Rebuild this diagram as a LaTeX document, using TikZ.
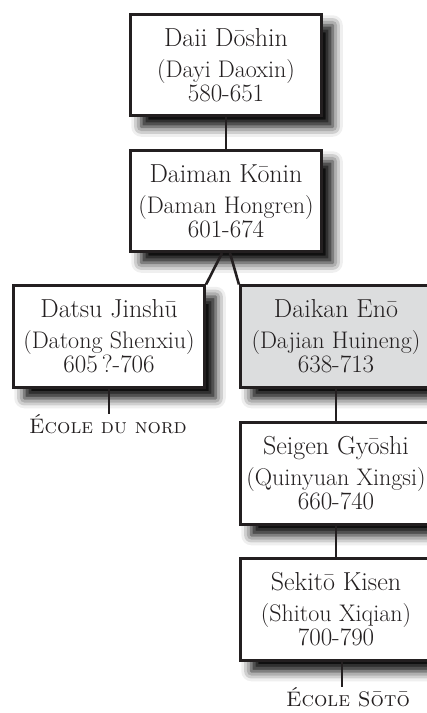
\documentclass[tikz,border=0pt]{standalone}
\usetikzlibrary{shadows.blur}
\definecolor{ink}{HTML}{231F20}
\definecolor{enogray}{HTML}{DCDDDE}
\newcommand\pers[3]{{\fontsize{26}{26}\selectfont #1}\\[7pt] #2\\ {\fontsize{25}{24}\selectfont #3}}
\begin{document}
\begin{tikzpicture}[x=1pt,y=-1pt,
  person/.style={draw=ink, line width=2.6pt, fill=white, minimum width=191.5pt,
    minimum height=101.5pt, inner sep=0pt, align=center, text=ink,
    font=\fontsize{24}{24}\selectfont,
    blur shadow={shadow xshift=11pt, shadow yshift=-11pt, shadow blur radius=10pt, shadow opacity=100}},
  link/.style={draw=ink, line width=2.6pt},
  school/.style={text=ink, font=\fontsize{21}{24}\selectfont\scshape, inner sep=0pt, anchor=base}]
\useasboundingbox (0,0) rectangle (427,713);
\clip (0,0) rectangle (427,713);
\node[person] (doshin) at (226,65) {\pers{Daii Dōshin}{(Dayi Daoxin)}{580-651}};
\node[person] (konin) at (226,201) {\pers{Daiman Kōnin}{(Daman Hongren)}{601-674}};
\node[person] (jinshu) at (109,336.5) {\pers{Datsu Jinshū}{(Datong Shenxiu)}{605\,?-706}};
\node[person, fill=enogray] (eno) at (336,336.5) {\pers{Daikan Enō}{(Dajian Huineng)}{638-713}};
\node[person] (gyoshi) at (336,473.5) {\pers{Seigen Gyōshi}{(Quinyuan Xingsi)}{660-740}};
\node[person] (kisen) at (336,609.5) {\pers{Sekitō Kisen}{(Shitou Xiqian)}{700-790}};
\node[school] (nord) at (108,433) {École du nord};
\node[school] (soto) at (348,706) {École Sōtō};
\draw[link] (doshin.south) -- (konin.north);
\draw[link] ([xshift=-4pt]konin.south) -- (jinshu.north east);
\draw[link] ([xshift=4pt]konin.south) -- (eno.north west);
\draw[link] (eno.south) -- (gyoshi.north);
\draw[link] (gyoshi.south) -- (kisen.north);
\draw[link] (jinshu.south) -- (jinshu.south |- nord.north);
\draw[link] ([xshift=6pt]kisen.south) -- ([xshift=6pt]kisen.south |- soto.north);
\end{tikzpicture}
\end{document}
